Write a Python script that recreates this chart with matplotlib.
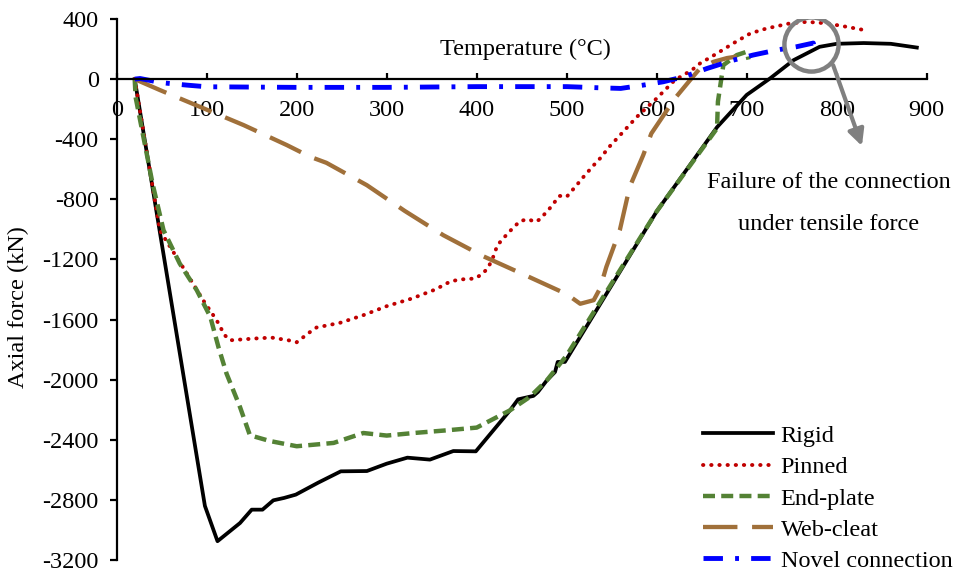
import numpy as np
import matplotlib.pyplot as plt

plt.rcParams['font.family'] = ['Liberation Serif', 'DejaVu Serif']
plt.rcParams['axes.unicode_minus'] = False

# --- data (temperature degC, axial force kN) ---
rigid_t = [20, 98, 112, 137, 150, 162, 174, 186, 199, 224, 249, 278, 300, 323,
           348, 374, 399, 437, 446, 463, 468, 478, 487, 490, 498, 600, 667, 700,
           726, 752, 781, 800, 830, 860, 889]
rigid_f = [0, -2840, -3075, -2954, -2865, -2865, -2803, -2787, -2765, -2685, -2610,
           -2608, -2559, -2519, -2532, -2475, -2477, -2204, -2131, -2108, -2082,
           -2004, -1949, -1882, -1882, -880, -320, -105, 5, 126, 215, 235, 240, 235, 210]

pinned_t = [20, 48, 57, 78, 96, 111, 120, 126, 154, 172, 191, 200, 215, 222, 248,
            274, 300, 328, 354, 370, 380, 398, 406, 412, 417, 423, 435, 448, 457,
            465, 470, 481, 492, 500, 511, 518, 530, 537, 548, 561, 578, 600, 620,
            639, 648, 667, 685, 704, 722, 748, 767, 789, 811, 831]
pinned_f = [0, -1008, -1094, -1294, -1471, -1604, -1704, -1738, -1726, -1720, -1738,
            -1751, -1682, -1653, -1622, -1571, -1511, -1460, -1400, -1349, -1334,
            -1327, -1298, -1260, -1205, -1105, -1023, -945, -932, -950, -934, -861,
            -777, -783, -706, -655, -573, -528, -446, -362, -251, -128, -7, 60, 104,
            171, 238, 304, 337, 371, 381, 371, 348, 326]

endplate_t = [20, 21, 40, 52, 70, 89, 104, 113, 122, 137, 148, 170, 200, 241, 274,
              300, 330, 367, 400, 437, 459, 478, 500, 600, 667, 668, 674, 689, 700, 702]
endplate_f = [0, -120, -700, -1005, -1227, -1405, -1582, -1782, -1959, -2182, -2370,
              -2408, -2443, -2421, -2355, -2372, -2355, -2337, -2319, -2204, -2115,
              -2004, -1838, -880, -328, -150, 93, 160, 182, 130]

webcleat_t = [20, 48, 141, 189, 215, 233, 278, 320, 363, 407, 454, 500, 515, 530,
              537, 544, 559, 570, 585, 594, 604, 620, 637, 648, 663, 678, 689]
webcleat_f = [0, -73, -306, -439, -517, -557, -706, -877, -1039, -1178, -1305, -1431,
              -1495, -1471, -1393, -1250, -1005, -717, -506, -362, -273, -130, -7,
              71, 115, 140, 150]

novel_t = [20, 26, 50, 78, 100, 200, 300, 400, 500, 537, 560, 585, 607, 630, 656,
           685, 707, 733, 755, 774, 776]
novel_f = [0, 4, -24, -40, -51, -55, -55, -50, -50, -58, -62, -40, -18, 15, 71,
           126, 160, 193, 215, 240, 175]

labels = ['Rigid', 'Pinned', 'End-plate', 'Web-cleat', 'Novel connection']

# failure annotation
circle_xy = (771.5, 235)
arrow_from = (796, 93)
arrow_to = (828, -445)
note_xy = (791, -826)
note_text = 'Failure of the connection\nunder tensile force'

FS = 17.5

fig = plt.figure(figsize=(9.55, 5.74), dpi=100)
ax = fig.add_axes([0.1222, 0.0244, 0.8482, 0.9425])

ax.plot(rigid_t, rigid_f, color='black', lw=2.7, label=labels[0])
ax.plot(pinned_t, pinned_f, color='#C00000', lw=2.8, linestyle=(0, (0.1, 2.0)),
        dash_capstyle='round', label=labels[1])
ax.plot(endplate_t, endplate_f, color='#548235', lw=3.2, linestyle=(0, (2.7, 1.4)),
        label=labels[2])
ax.plot(webcleat_t, webcleat_f, color='#A0703A', lw=3.1, linestyle=(0, (8, 3.4)),
        label=labels[3])
ax.plot(novel_t, novel_f, color='#0000FF', lw=3.5, linestyle=(0, (4.0, 2.5, 0.8, 2.5)),
        label=labels[4])

ax.plot([circle_xy[0]], [circle_xy[1]], marker='o', ms=39, mfc='none',
        mec='#808080', mew=3.2, zorder=5)
ax.annotate('', xy=arrow_to, xytext=arrow_from,
            arrowprops=dict(arrowstyle='-|>', color='#808080', lw=3,
                            mutation_scale=24, shrinkA=0, shrinkB=0), zorder=5)
ax.text(note_xy[0], note_xy[1], note_text, ha='center', va='center',
        fontsize=FS, linespacing=2.3)

ax.set_xlim(0, 900)
ax.set_ylim(-3200, 400)
ax.set_xticks(np.arange(0, 901, 100))
ax.set_yticks(np.arange(-3200, 401, 400))

ax.spines['top'].set_visible(False)
ax.spines['right'].set_visible(False)
ax.spines['bottom'].set_position(('data', 0))
ax.spines['bottom'].set_linewidth(1.6)
ax.spines['left'].set_linewidth(1.6)

ax.tick_params(axis='x', direction='in', length=4, width=1.6, pad=15, labelsize=FS)
ax.tick_params(axis='y', direction='out', length=5, width=1.6, pad=8, labelsize=FS)

ax.set_xlabel('Temperature (°C)', fontsize=FS)
ax.xaxis.set_label_coords(0.504, 0.964)
ax.set_ylabel('Axial force (kN)', fontsize=FS)
ax.yaxis.set_label_coords(-0.108, 0.468)

ax.legend(loc='lower left', bbox_to_anchor=(703 / 955, 1 - 572 / 574),
          bbox_transform=fig.transFigure, frameon=False, fontsize=FS,
          handlelength=2.9, handletextpad=0.3, labelspacing=0.38,
          borderpad=0, borderaxespad=0)

fig.savefig('out.png', dpi=100)
